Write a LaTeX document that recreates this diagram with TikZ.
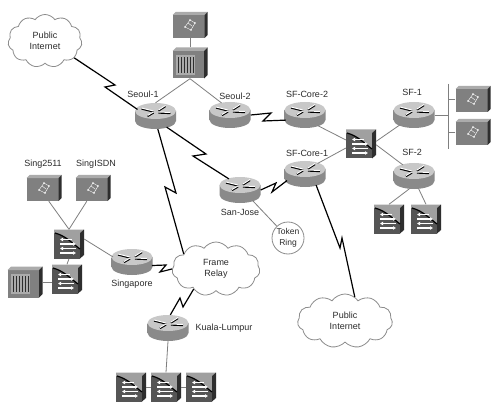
\documentclass[tikz,border=0pt]{standalone}
\usepackage{fontspec}
\setmainfont{Liberation Sans}
\usetikzlibrary{arrows.meta,calc,shapes.geometric,shapes.symbols}
\definecolor{linegray}{HTML}{7F7F7F}
\definecolor{cloudgray}{HTML}{8C8C8C}
\definecolor{inkgray}{HTML}{2B2B2B}
\definecolor{bodydark}{HTML}{8A8A8A}
\definecolor{bodytop}{HTML}{C8C8C8}
\definecolor{boxfront}{HTML}{808080}
\definecolor{boxtop}{HTML}{ABABAB}
\definecolor{boxside}{HTML}{2E2E2E}
\definecolor{swfront}{HTML}{555555}
\definecolor{swlight}{HTML}{A0A0A0}
\tikzset{
  routerbox/.style={ellipse,minimum width=41pt,minimum height=26pt,inner sep=0pt},
  starbox/.style={rectangle,minimum width=35pt,minimum height=26pt,inner sep=0pt},
  serverbox/.style={rectangle,minimum width=35pt,minimum height=31pt,inner sep=0pt},
  switchbox/.style={rectangle,minimum width=30pt,minimum height=29pt,inner sep=0pt},
  netcloud/.style={cloud,cloud puffs=11,cloud puff arc=110,aspect=1.5,draw=cloudgray,line width=.8pt,fill=white,inner sep=0pt,align=center,font=\fontsize{9}{11}\selectfont,text=inkgray},
  ringnode/.style={circle,draw=cloudgray,line width=.8pt,fill=white,minimum size=32pt,inner sep=0pt,align=center,font=\fontsize{8.5}{11}\selectfont,text=inkgray},
  devlabel/.style={inner sep=0pt,font=\fontsize{9}{11}\selectfont,text=inkgray},
  lanline/.style={draw=linegray,line width=.8pt},
  wanline/.style={draw=black,line width=1.2pt,line join=miter},
  routerpic/.pic={
    \shade[left color=bodydark,middle color=white,right color=bodydark] (-20.5,-5) -- (-20.5,5) arc[start angle=180,end angle=0,x radius=20.5,y radius=8] -- (20.5,-5) -- cycle;
    \fill[bodytop] (0,-5) ellipse[x radius=20.5,y radius=8];
    \foreach \xa/\ya/\xb/\yb in {-2/-5/-14/-8,3/-6/10/-10.5,3/-4/15/-3.5,-2/-4/-8/-.5}{
      \draw[black,line width=1.7pt] (\xa,\ya+.8) -- (\xb,\yb+.8);
      \draw[white,line width=1pt] (\xa,\ya) -- (\xb,\yb);
    }
  },
  starpic/.pic={
    \fill[boxfront] (-17.5,-10) rectangle (14.5,13);
    \fill[boxtop] (-17.5,-10) -- (-14.5,-13) -- (17.5,-13) -- (14.5,-10) -- cycle;
    \fill[boxside] (14.5,-10) -- (17.5,-13) -- (17.5,10) -- (14.5,13) -- cycle;
    \draw[white,line width=.4pt] (0,-5) -- (5,-2) -- (1,5) -- (-5,2) -- cycle (-2,-2) -- (2,1);
    \foreach \xa/\ya in {0/-5,5/-2,1/5,-5/2}{\fill[white] (\xa,\ya) circle[radius=.9];}
  },
  serverpic/.pic={
    \fill[boxfront] (-17.5,-12) rectangle (14,15.5);
    \fill[boxtop] (-17.5,-12) -- (-14,-15.5) -- (17.5,-15.5) -- (14,-12) -- cycle;
    \fill[boxside] (14,-12) -- (17.5,-15.5) -- (17.5,12) -- (14,15.5) -- cycle;
    \fill[boxtop] (-14,-8) rectangle (5,12);
    \foreach \xa in {-12,-9,-6,-3,0,3}{\fill[boxside] (\xa,-6) rectangle (\xa+1.4,10);}
  },
  switchpic/.pic={
    \fill[swfront] (-15,-11) rectangle (11,14.5);
    \fill[swlight] (-15,-14.5) -- (-11,-14.5) -- (15,-14.5) -- (11,-11) -- (11,5) .. controls (3,-1) and (-3,-8) .. (-15,-11) -- cycle;
    \fill[boxside] (11,-11) -- (15,-14.5) -- (15,11) -- (11,14.5) -- cycle;
    \draw[black,line width=1.2pt] (-14,-11) .. controls (-3,-8) and (3,-1) .. (11,5);
    \draw[white,line width=1.3pt,-{Latex[length=3pt,width=4pt]}] (3,-4.5) -- (-9,-4.5);
    \draw[white,line width=1.3pt,-{Latex[length=3pt,width=4pt]}] (-9,0) -- (7,0);
    \draw[white,line width=1.3pt,-{Latex[length=3pt,width=4pt]}] (7,4.5) -- (-9,4.5);
    \draw[white,line width=1.3pt,-{Latex[length=3pt,width=4pt]}] (-9,9) -- (7,9);
  },
}
\begin{document}
\begin{tikzpicture}[x=1pt,y=-1pt]
  \useasboundingbox (0,0) rectangle (500,414);
  \fill[white] (0,0) rectangle (500,414);

  \node[netcloud,minimum width=74pt,minimum height=53pt] (internetnorth) at (45,41) {Public\\Internet};
  \node[netcloud,minimum width=88pt,minimum height=54pt] (framerelay) at (216,269) {Frame\\Relay};
  \node[netcloud,minimum width=95pt,minimum height=54pt] (internetsouth) at (345,321) {Public\\Internet};
  \node[ringnode] (tokenring) at (288,238) {Token\\Ring};

  \foreach \name/\x/\y in {seoulone/155.5/116,seoultwo/230/115,sanjose/240/190,sfcoretwo/305/115,sfcoreone/305/174,sfone/414/115,sftwo/414/176,singapore/132/262,kualalumpur/168/328}{
    \node[routerbox] (\name) at (\x,\y) {};
    \pic at (\name) {routerpic};
  }
  \foreach \name/\x/\y in {seoulstar/190/25,sfstarone/473/99,sfstartwo/473/132,singstar/44/188,isdnstar/93/188}{
    \node[starbox] (\name) at (\x,\y) {};
    \pic at (\name) {starpic};
  }
  \foreach \name/\x/\y in {seoulserver/190/63,singserver/25/282}{
    \node[serverbox] (\name) at (\x,\y) {};
    \pic at (\name) {serverpic};
  }
  \foreach \name/\x/\y in {corehub/361/144,sftwoleft/389/219,sftworight/426/219,singhub/69/244,singlower/67/279,kualaleft/131/387,kualamid/166/387,kualaright/201/387}{
    \node[switchbox] (\name) at (\x,\y) {};
    \pic at (\name) {switchpic};
  }

  \node[devlabel] (seoulonelabel) at (143,94) {Seoul-1};
  \node[devlabel] (seoultwolabel) at (235,96) {Seoul-2};
  \node[devlabel] (sfcoretwolabel) at (307,94) {SF-Core-2};
  \node[devlabel] (sfcoreonelabel) at (307,153) {SF-Core-1};
  \node[devlabel] (sfonelabel) at (412,92) {SF-1};
  \node[devlabel] (sftwolabel) at (412,152) {SF-2};
  \node[devlabel] (sanjoselabel) at (240,212) {San-Jose};
  \node[devlabel] (singstarlabel) at (43,164) {Sing2511};
  \node[devlabel] (isdnstarlabel) at (96,164) {SingISDN};
  \node[devlabel] (singaporelabel) at (132,284) {Singapore};
  \node[devlabel] (kualalabel) at (224,328) {Kuala-Lumpur};

  \coordinate (bustop) at (448,84);
  \coordinate (busbottom) at (448,149);
  \draw[lanline] (bustop) -- (busbottom);
  \draw[lanline] (sfone.east) -- (sfone.east -| bustop);
  \draw[lanline] (sfstarone.west) -- (sfstarone.west -| bustop);
  \draw[lanline] (sfstartwo.west) -- (sfstartwo.west -| bustop);

  \draw[lanline] (seoulstar.south) -- (seoulserver.north);
  \draw[lanline] (seoulserver.south) -- (seoulone.north);
  \draw[lanline] (seoulserver.south) -- (seoultwo.125);
  \draw[lanline] (sfcoretwo.-40) -- (corehub.165);
  \draw[lanline] (sfcoreone.40) -- (corehub.195);
  \draw[lanline] (corehub.10) -- (sfone.-145);
  \draw[lanline] (corehub.-3) -- (sftwo.135);
  \draw[lanline] (sftwo.-110) -- (sftwoleft.north);
  \draw[lanline] (sftwo.-70) -- (sftworight.north);
  \draw[lanline] (sanjose.-40) -- (tokenring);
  \draw[lanline] (singstar.-70) -- (singhub.north);
  \draw[lanline] (isdnstar.-115) -- (singhub.north);
  \draw[lanline] (singhub.south) -- (singlower.north);
  \draw[lanline] (singserver.east) -- (singlower.west |- singserver.east);
  \draw[lanline] (singhub.18) -- (singapore.165);
  \draw[lanline] (kualalumpur.south) -- (kualamid.north);
  \draw[lanline] (kualaleft.east) -- (kualamid.west);
  \draw[lanline] (kualamid.east) -- (kualaright.west);

  \draw[wanline] (internetnorth.-30) -- (115,85) -- (105,87) -- (seoulone.160);
  \draw[wanline] (seoulone.-45) -- (206,154) -- (193,156) -- (sanjose.135);
  \draw[wanline] (seoulone.-80) -- (176,193) -- (165,187) -- (framerelay.155);
  \draw[wanline] (seoultwo.east) -- (271,113) -- (263,121) -- (sfcoretwo.195);
  \draw[wanline] (sanjose.east) -- (276,183) -- (272,192) -- (sfcoreone.200);
  \draw[wanline] (sfcoreone.-45) -- (340,248) -- (342,238) -- (internetsouth.68);
  \draw[wanline] (singapore.-10) -- (166,265) -- (160,272) -- (framerelay.west);
  \draw[wanline] (framerelay.-138) -- (183,307) -- (180,298) -- (kualalumpur.80);
\end{tikzpicture}
\end{document}
